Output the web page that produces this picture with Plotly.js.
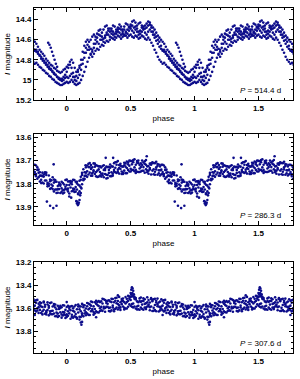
<!DOCTYPE html>
<html><head><meta charset="utf-8">
<script src="https://cdn.plot.ly/plotly-3.0.1.min.js"></script>
<style>html,body{margin:0;padding:0;background:#fff}#chart{width:300px;height:379px}</style>
</head><body><div id="chart"></div>
<script>
// ---------- Panel 1 (P = 514.4 d) ----------
const phase1 = [0,0.0125,0.025,0.0375,0.05,0.0625,0.075,0.0875,
0.1,0.1125,0.125,0.1375,0.15,0.1625,0.175,0.1875,
0.2,0.2125,0.225,0.2375,0.25,0.2625,0.275,0.2875,
0.3,0.3125,0.325,0.3375,0.35,0.3625,0.375,0.3875,
0.4,0.4125,0.425,0.4375,0.45,0.4625,0.475,0.4875,
0.5,0.5125,0.525,0.5375,0.55,0.5625,0.575,0.5875,
0.6,0.6125,0.625,0.6375,0.65,0.6625,0.675,0.6875,
0.7,0.7125,0.725,0.7375,0.75,0.7625,0.775,0.7875,
0.8,0.8125,0.825,0.8375,0.85,0.8625,0.875,0.8875,
0.9,0.9125,0.925,0.9375,0.95,0.9625,0.975,0.9875];
const mag1A = [14.87,14.85,14.82,14.80,14.83,14.88,14.92,14.90,
14.86,14.80,14.72,14.66,14.62,14.60,14.62,14.60,
14.57,14.55,14.57,14.54,14.51,14.50,14.53,14.50,
14.47,14.46,14.49,14.52,14.49,14.46,14.47,14.50,
14.48,14.45,14.47,14.50,14.47,14.44,14.45,14.48,
14.45,14.42,14.41,14.43,14.46,14.44,14.43,14.46,
14.49,14.46,14.44,14.42,14.43,14.46,14.48,14.50,
14.53,14.56,14.58,14.60,14.62,14.64,14.67,14.70,
14.72,14.74,14.76,14.79,14.81,14.83,14.85,14.86,
14.88,14.89,14.91,14.92,14.93,14.92,14.90,14.89];
const mag1B = [14.97,14.98,14.96,14.94,14.97,15.00,15.01,14.98,
14.95,14.90,14.84,14.78,14.73,14.70,14.67,14.69,
14.72,14.68,14.64,14.62,14.64,14.60,14.57,14.59,
14.56,14.53,14.55,14.57,14.54,14.52,14.54,14.52,
14.50,14.53,14.55,14.52,14.50,14.52,14.54,14.51,
14.49,14.51,14.53,14.50,14.49,14.52,14.54,14.52,
14.50,14.53,14.55,14.52,14.50,14.52,14.55,14.58,
14.61,14.64,14.67,14.69,14.71,14.70,14.72,14.75,
14.77,14.79,14.81,14.83,14.85,14.87,14.89,14.91,
14.93,14.95,14.97,14.99,15.00,15.01,15.00,14.98];
const mag1C = [15.02,15.03,15.02,15.00,15.02,15.04,15.05,15.04,
15.03,15.00,14.96,14.92,14.87,14.82,14.78,14.75,
14.77,14.74,14.71,14.69,14.70,14.67,14.65,14.66,
14.63,14.61,14.62,14.60,14.58,14.59,14.60,14.58,
14.56,14.57,14.59,14.57,14.55,14.56,14.58,14.56,
14.55,14.57,14.58,14.56,14.57,14.59,14.58,14.56,
14.57,14.59,14.60,14.58,14.60,14.63,14.66,14.70,
14.73,14.77,14.80,14.82,14.84,14.83,14.85,14.87,
14.88,14.90,14.91,14.93,14.94,14.96,14.97,14.99,
15.00,15.02,15.03,15.04,15.05,15.05,15.04,15.03];
const mag1D = [14.92,14.88,14.85,14.88,14.93,14.97,14.96,14.92,
14.88,14.85,14.80,14.73,14.68,14.65,14.70,14.74,
14.70,14.64,14.60,14.58,14.55,14.56,14.60,14.62,
14.58,14.55,14.51,14.49,14.51,14.55,14.57,14.54,
14.52,14.49,14.50,14.54,14.56,14.53,14.50,14.47,
14.47,14.46,14.48,14.47,14.52,14.55,14.51,14.48,
14.47,14.49,14.48,14.46,14.45,14.48,14.52,14.55,
14.57,14.60,14.62,14.66,14.70,14.72,14.74,14.76,
14.79,14.81,14.83,14.85,14.87,14.89,14.90,14.92,
14.94,14.95,14.97,14.98,14.99,14.99,14.97,14.95];
const extra1Phase = [0.855,0.865,0.875,0.885,0.895,0.905,0.915,0.925];
const extra1Mag = [14.63,14.65,14.68,14.72,14.76,14.80,14.84,14.87];

// ---------- shared phase grids for panels 2 and 3 ----------
const gridEven = [0,0.02,0.04,0.06,0.08,0.1,0.12,0.14,0.16,0.18,0.2,0.22,0.24,0.26,0.28,0.3,0.32,0.34,0.36,0.38,0.4,0.42,0.44,0.46,0.48,0.5,0.52,0.54,0.56,0.58,0.6,0.62,0.64,0.66,0.68,0.7,0.72,0.74,0.76,0.78,0.8,0.82,0.84,0.86,0.88,0.9,0.92,0.94,0.96,0.98];
const gridOdd = [0.01,0.03,0.05,0.07,0.09,0.11,0.13,0.15,0.17,0.19,0.21,0.23,0.25,0.27,0.29,0.31,0.33,0.35,0.37,0.39,0.41,0.43,0.45,0.47,0.49,0.51,0.53,0.55,0.57,0.59,0.61,0.63,0.65,0.67,0.69,0.71,0.73,0.75,0.77,0.79,0.81,0.83,0.85,0.87,0.89,0.91,0.93,0.95,0.97,0.99];

// ---------- Panel 2 (P = 286.3 d) ----------
const mag2a = [13.782,13.805,13.832,13.784,13.825,13.787,13.802,13.750,13.721,13.752,13.765,13.726,13.743,13.764,13.723,13.758,13.728,13.767,13.726,13.750,13.702,13.736,13.751,13.712,13.740,13.701,13.740,13.718,13.749,13.712,13.728,13.697,13.744,13.712,13.759,13.729,13.742,13.718,13.767,13.752,13.797,13.760,13.786,13.764,13.818,13.795,13.825,13.795,13.820,13.838];
const mag2b = [13.825,13.789,13.802,13.835,13.799,13.833,13.762,13.766,13.770,13.710,13.729,13.758,13.722,13.749,13.763,13.733,13.775,13.731,13.757,13.707,13.739,13.714,13.726,13.754,13.716,13.735,13.698,13.740,13.711,13.747,13.708,13.737,13.723,13.760,13.710,13.738,13.717,13.759,13.721,13.772,13.765,13.799,13.762,13.800,13.785,13.833,13.791,13.823,13.791,13.826];
const mag2c = [13.805,13.842,13.791,13.823,13.791,13.808,13.753,13.779,13.746,13.728,13.754,13.713,13.771,13.725,13.756,13.741,13.762,13.717,13.765,13.731,13.749,13.722,13.758,13.726,13.707,13.747,13.707,13.753,13.700,13.728,13.744,13.718,13.757,13.718,13.737,13.705,13.755,13.739,13.758,13.739,13.783,13.769,13.752,13.809,13.803,13.782,13.840,13.804,13.835,13.803];
const mag2d = [13.833,13.796,13.821,13.791,13.841,13.783,13.778,13.729,13.760,13.736,13.712,13.749,13.769,13.730,13.740,13.777,13.740,13.750,13.711,13.753,13.719,13.758,13.720,13.732,13.700,13.741,13.729,13.702,13.734,13.700,13.752,13.725,13.713,13.743,13.711,13.761,13.725,13.718,13.778,13.765,13.752,13.786,13.811,13.782,13.772,13.825,13.810,13.840,13.797,13.822];
const mag2e = [13.790,13.816,13.783,13.834,13.804,13.815,13.737,13.752,13.728,13.765,13.748,13.720,13.738,13.769,13.720,13.761,13.727,13.767,13.740,13.718,13.756,13.725,13.743,13.704,13.747,13.716,13.694,13.748,13.719,13.744,13.714,13.750,13.738,13.707,13.748,13.723,13.764,13.749,13.740,13.790,13.767,13.754,13.796,13.822,13.809,13.791,13.839,13.809,13.828,13.784];
const mag2f = [13.821,13.788,13.830,13.814,13.845,13.770,13.785,13.765,13.714,13.719,13.742,13.768,13.725,13.757,13.772,13.726,13.753,13.724,13.748,13.706,13.732,13.747,13.709,13.754,13.722,13.703,13.746,13.709,13.749,13.719,13.703,13.743,13.732,13.711,13.761,13.715,13.742,13.759,13.729,13.750,13.795,13.750,13.802,13.789,13.823,13.784,13.824,13.802,13.842,13.813];
const extra2Phase = [0.075,0.08,0.083,0.087,0.09,0.095,0.1,0.105,0.11,0.115,0.845,0.87,0.895,0.92,0.898,0.305,0.147,0.363,0.626,0.02,0.035];
const extra2Mag = [13.875,13.885,13.878,13.892,13.888,13.882,13.87,13.85,13.84,13.82,13.877,13.895,13.905,13.895,13.716,13.688,13.72,13.688,13.681,13.855,13.86];

// ---------- Panel 3 (P = 307.6 d) ----------
const mag3a = [13.677,13.606,13.658,13.586,13.684,13.611,13.646,13.575,13.648,13.602,13.548,13.608,13.636,13.548,13.560,13.632,13.563,13.595,13.521,13.607,13.539,13.616,13.540,13.560,13.494,13.580,13.560,13.512,13.580,13.508,13.614,13.559,13.531,13.586,13.524,13.628,13.552,13.524,13.630,13.592,13.557,13.615,13.655,13.583,13.551,13.647,13.610,13.669,13.593,13.654];
const mag3b = [13.591,13.646,13.582,13.672,13.610,13.675,13.564,13.621,13.584,13.660,13.620,13.550,13.574,13.626,13.520,13.600,13.537,13.629,13.579,13.537,13.613,13.550,13.586,13.504,13.588,13.530,13.490,13.604,13.550,13.596,13.538,13.609,13.581,13.514,13.598,13.552,13.630,13.586,13.554,13.642,13.587,13.551,13.625,13.663,13.625,13.579,13.668,13.607,13.655,13.578];
const mag3c = [13.653,13.590,13.676,13.632,13.692,13.585,13.660,13.647,13.556,13.568,13.608,13.646,13.548,13.602,13.624,13.530,13.589,13.543,13.595,13.513,13.565,13.594,13.518,13.604,13.538,13.504,13.594,13.526,13.610,13.546,13.516,13.595,13.569,13.522,13.624,13.536,13.586,13.606,13.532,13.562,13.643,13.543,13.637,13.597,13.653,13.565,13.638,13.593,13.683,13.636];
const mag3d = [13.581,13.619,13.684,13.574,13.638,13.586,13.672,13.604,13.561,13.627,13.657,13.563,13.582,13.620,13.524,13.590,13.532,13.620,13.550,13.596,13.503,13.566,13.598,13.520,13.568,13.497,13.586,13.542,13.614,13.538,13.564,13.507,13.593,13.529,13.617,13.566,13.594,13.537,13.621,13.576,13.655,13.571,13.617,13.557,13.653,13.595,13.648,13.581,13.634,13.686];
const mag3e = [13.667,13.587,13.624,13.676,13.586,13.678,13.592,13.636,13.659,13.543,13.585,13.627,13.540,13.590,13.604,13.540,13.626,13.548,13.612,13.510,13.577,13.522,13.548,13.604,13.520,13.565,13.502,13.586,13.538,13.608,13.524,13.587,13.551,13.625,13.519,13.584,13.544,13.619,13.529,13.616,13.591,13.649,13.569,13.629,13.587,13.671,13.580,13.637,13.576,13.662];
const mag3f = [13.627,13.693,13.602,13.652,13.570,13.628,13.574,13.662,13.611,13.579,13.635,13.537,13.638,13.542,13.590,13.556,13.600,13.520,13.628,13.558,13.597,13.538,13.612,13.548,13.502,13.589,13.520,13.612,13.516,13.570,13.596,13.549,13.619,13.541,13.573,13.518,13.620,13.579,13.603,13.550,13.627,13.589,13.549,13.647,13.623,13.569,13.678,13.599,13.664,13.616];
const extra3Phase = [0.495,0.5,0.505,0.51,0.515,0.52,0.525,0.53,0.52,0.513,0.505,0.1,0.11,0.115,0.12,0.0,0.75,0.4,0.23];
const extra3Mag = [13.50,13.47,13.44,13.42,13.43,13.45,13.48,13.51,13.50,13.47,13.48,13.70,13.725,13.745,13.72,13.548,13.66,13.49,13.68];

const periods = ['514.4', '286.3', '307.6'];
const xTickVals = [0, 0.5, 1, 1.5];

// Phase-folded data are shown over two cycles: each point appears at phase-1, phase and phase+1
function folded(sets) {
  const x = [], y = [];
  for (const [ph, mg] of sets) {
    for (const shift of [-1, 0, 1]) {
      for (let i = 0; i < ph.length; i++) { x.push(ph[i] + shift); y.push(mg[i]); }
    }
  }
  return {x, y};
}

const panels = [
  folded([[phase1, mag1A],[phase1, mag1B],[phase1, mag1C],[phase1, mag1D],[extra1Phase, extra1Mag]]),
  folded([[gridEven, mag2a],[gridEven, mag2b],[gridEven, mag2c],[gridOdd, mag2d],[gridOdd, mag2e],[gridOdd, mag2f],[extra2Phase, extra2Mag]]),
  folded([[gridEven, mag3a],[gridEven, mag3b],[gridEven, mag3c],[gridOdd, mag3d],[gridOdd, mag3e],[gridOdd, mag3f],[extra3Phase, extra3Mag]])
];

const FONT = 'Liberation Sans, Arial, Helvetica, sans-serif';
const markerStyle = {color: '#0c0c8a', size: 2.6, line: {width: 0}};

const data = panels.map((p, i) => ({
  type: 'scatter', mode: 'markers', x: p.x, y: p.y,
  xaxis: i === 0 ? 'x' : 'x' + (i + 1), yaxis: i === 0 ? 'y' : 'y' + (i + 1),
  marker: markerStyle, hoverinfo: 'skip', showlegend: false, cliponaxis: true
}));

const axBase = {
  showline: true, linecolor: '#000', linewidth: 1, mirror: 'ticks',
  ticks: 'inside', ticklen: 4, tickwidth: 1, tickcolor: '#000',
  showgrid: false, zeroline: false,
  tickfont: {family: FONT, size: 8, color: '#000', weight: 700},
  minor: {ticks: 'inside', ticklen: 2, tickwidth: 1, tickcolor: '#000', showgrid: false}
};

function xAxis(anchor) {
  return Object.assign({}, axBase, {
    anchor: anchor, domain: [0, 1], range: [-0.256, 1.77],
    tickmode: 'array', tickvals: xTickVals, ticktext: xTickVals.map(String),
    minor: Object.assign({}, axBase.minor, {dtick: 0.1, tick0: 0}),
    title: {text: 'phase', font: {family: FONT, size: 8, color: '#000'}, standoff: 3}
  });
}
function yAxis(anchor, domain, range, dtick, tick0, minorDtick) {
  return Object.assign({}, axBase, {
    anchor: anchor, domain: domain, range: range, dtick: dtick, tick0: tick0,
    minor: Object.assign({}, axBase.minor, {dtick: minorDtick, tick0: tick0}),
    title: {text: '<b><i>I</i></b> magnitude', font: {family: FONT, size: 8, color: '#000'}, standoff: 4}
  });
}

const layout = {
  width: 300, height: 379,
  margin: {l: 34, r: 7, t: 8, b: 26, pad: 0},
  paper_bgcolor: '#fff', plot_bgcolor: '#fff',
  font: {family: FONT, size: 8, color: '#000'},
  xaxis: xAxis('y'), xaxis2: xAxis('y2'), xaxis3: xAxis('y3'),
  yaxis: yAxis('x', [0.7333, 1], [15.2, 14.285], 0.2, 14.4, 0.1),
  yaxis2: yAxis('x2', [0.3710, 0.6348], [13.978, 13.585], 0.1, 13.6, 0.02),
  yaxis3: yAxis('x3', [0, 0.2638], [13.99, 13.2], 0.2, 13.2, 0.05),
  annotations: periods.map((p, i) => ({
    text: '<i>P</i> = ' + p + ' d', showarrow: false,
    xref: (i === 0 ? 'x' : 'x' + (i + 1)) + ' domain', yref: (i === 0 ? 'y' : 'y' + (i + 1)) + ' domain',
    x: 0.962, y: 0.10, xanchor: 'right', yanchor: 'middle',
    font: {family: FONT, size: 8, color: '#000'}
  }))
};

Plotly.newPlot('chart', data, layout, {staticPlot: true, displayModeBar: false});
</script>
</body></html>
